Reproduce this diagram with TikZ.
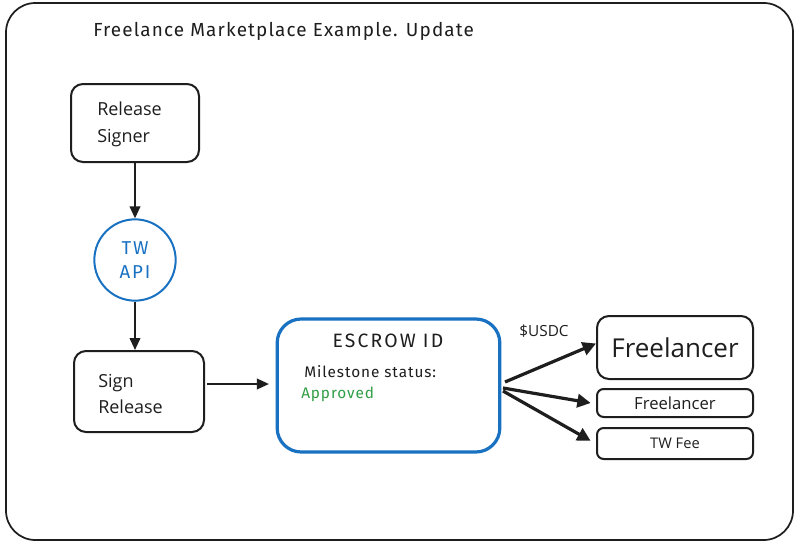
\documentclass[tikz,border=0pt]{standalone}
\usepackage{fontspec}
\setmainfont{Open Sans}
\newfontfamily\handfont{Fira Sans}[LetterSpace=6]
\usetikzlibrary{arrows.meta}
\definecolor{exblue}{HTML}{1971C2}
\definecolor{exgreen}{HTML}{2F9E44}
\definecolor{exink}{HTML}{1E1E1E}
\tikzset{
  px/.style={x=0.75pt,y=-0.75pt},
  boxstyle/.style={draw=exink,line width=1.5pt,rounded corners=9pt},
  arr/.style={draw=exink,line width=1.3pt,-{Triangle[length=9pt,width=8pt]}},
  thickarr/.style={draw=exink,line width=2.4pt,-{Triangle[length=10pt,width=10pt]}},
  lbl/.style={inner sep=0pt,anchor=west,font=\fontsize{13.5}{20}\selectfont,text=exink,align=left},
}
\begin{document}
\begin{tikzpicture}[px]
\useasboundingbox (0,0) rectangle (804,546);
\fill[white] (0,0) rectangle (804,546);
% frame
\draw[draw=exink,line width=1.3pt,rounded corners=22pt] (6,3) rectangle (793,540);
\node[inner sep=0pt,anchor=west,font=\handfont\fontsize{14.2}{17}\selectfont,text=exink] (title) at (93,31) {Freelance Marketplace Example. Update};
% Release signer
\node[boxstyle,minimum width=96pt,minimum height=58.5pt,inner sep=0pt] (rs) at (135,123) {};
\node[lbl] (rst) at (97,124.5) {Release\\Signer};
% TW API
\node[circle,draw=exblue,line width=1.5pt,minimum size=61pt,inner sep=0pt,text=exblue,font=\handfont\addfontfeature{LetterSpace=10}\fontsize{14}{18}\selectfont,align=center] (api) at (135,260) {TW\\API};
% Sign release
\node[boxstyle,minimum width=97.5pt,minimum height=60.75pt,inner sep=0pt] (sr) at (139,391.5) {};
\node[lbl] (srt) at (98,394) {Sign\\Release};
% Escrow
\node[draw=exblue,line width=2.4pt,rounded corners=18pt,minimum width=167pt,minimum height=99.75pt,inner sep=0pt] (esc) at (388.5,385.5) {};
\node[inner sep=0pt,font=\handfont\addfontfeature{LetterSpace=11}\fontsize{14.5}{17}\selectfont,text=exink] (esct) at (388,341) {ESCROW ID};
\node[inner sep=0pt,anchor=west,font=\handfont\fontsize{11.5}{14}\selectfont,text=exink] (ms) at (304,372) {Milestone status:};
\node[inner sep=0pt,anchor=west,font=\handfont\fontsize{11.5}{14}\selectfont,text=exgreen] (appr) at (301,394) {Approved};
% receivers
\node[boxstyle,minimum width=117pt,minimum height=47.25pt,inner sep=0pt,font=\fontsize{19.5}{22}\selectfont,text=exink] (f1) at (675,347.5) {Freelancer};
\node[boxstyle,rounded corners=5pt,minimum width=117pt,minimum height=21pt,inner sep=0pt,font=\fontsize{12.5}{15}\selectfont,text=exink] (f2) at (675,403) {Freelancer};
\node[boxstyle,rounded corners=5pt,minimum width=117pt,minimum height=23.25pt,inner sep=0pt,font=\fontsize{11}{13}\selectfont,text=exink] (fee) at (675,443.5) {TW Fee};
\node[inner sep=0pt,font=\fontsize{11.5}{14}\selectfont,text=exink] (usdc) at (544,331) {\$USDC};
% arrows
\draw[arr] (rs.south) -- (api.north);
\draw[arr] (api.south) -- (api.south |- sr.north);
\coordinate (sre) at (207,384);
\draw[arr] (sre) -- ([xshift=-5pt]sre -| esc.west);
\coordinate (o1) at (505,382);
\coordinate (o2) at (503,388);
\coordinate (o3) at (503,391);
\draw[thickarr] (o1) -- ([yshift=3pt]f1.west);
\draw[thickarr] (o2) -- ([xshift=-4pt]f2.west);
\draw[thickarr] (o3) -- ([xshift=-4pt,yshift=2pt]fee.west);
\end{tikzpicture}
\end{document}
